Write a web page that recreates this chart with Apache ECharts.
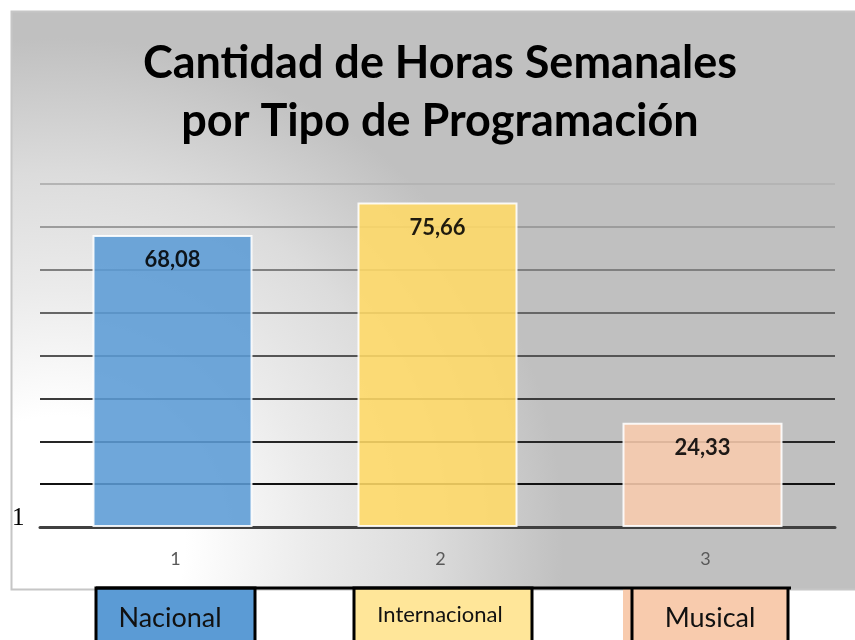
<!DOCTYPE html>
<html>
<head>
<meta charset="utf-8">
<script src="https://cdn.jsdelivr.net/npm/echarts@6/dist/echarts.min.js"></script>
<style>
html,body{margin:0;padding:0;background:#fff;}
#chart{width:855px;height:640px;}
</style>
</head>
<body>
<div id="chart"></div>
<script>
var titleText = 'Cantidad de Horas Semanales\npor Tipo de Programación';
var categories = ['1', '2', '3'];
var values = [68.08, 75.66, 24.33];
var seriesNames = ['Nacional', 'Internacional', 'Musical'];
var barColors = ['#5b9bd5', '#ffd966', '#f8cbad'];
var legendFills = ['#5b9bd5', '#ffe699', '#f8cbad'];
var yMin = 0, yMax = 80, yStep = 10;
var gridColors = ['#404040', '#111111', '#262626', '#3c3c3c', '#555555', '#666666', '#808080', '#9c9c9c', '#b4b4b4'];
var strayLabel = '1';

var chart = echarts.init(document.getElementById('chart'), null, {renderer: 'canvas'});

var option = {
  animation: false,
  backgroundColor: '#ffffff',
  title: {
    text: titleText,
    left: 440,
    textAlign: 'center',
    top: 34,
    padding: 0,
    textStyle: {
      fontFamily: 'Lato',
      fontWeight: 'bold',
      fontSize: 45,
      lineHeight: 58,
      color: '#000000'
    }
  },
  grid: {left: 40, right: 20, top: 184, bottom: 113, containLabel: false},
  xAxis: {
    type: 'category',
    data: categories,
    axisTick: {show: false},
    axisLine: {show: true, lineStyle: {color: '#404040', width: 3}},
    axisLabel: {margin: 23, color: '#595959', fontFamily: 'Lato', fontSize: 18,
                padding: [0, 0, 0, 6]}
  },
  yAxis: {
    type: 'value',
    min: yMin, max: yMax, interval: yStep,
    axisLabel: {show: false},
    axisLine: {show: false},
    axisTick: {show: false},
    splitLine: {show: true, lineStyle: {color: gridColors, width: 2}}
  },
  series: [{
    type: 'bar',
    barWidth: 160,
    data: values.map(function (v, i) {
      return {value: v, name: seriesNames[i], itemStyle: {color: barColors[i]}};
    }),
    itemStyle: {opacity: 0.88, borderColor: '#ffffff', borderWidth: 2},
    label: {
      show: true,
      position: 'insideTop',
      distance: 14,
      fontFamily: 'Lato',
      fontWeight: 'bold',
      fontSize: 22,
      color: '#000000',
      formatter: function (p) { return p.value.toFixed(2).replace('.', ','); }
    }
  }],
  graphic: [
    {
      type: 'rect', z: -10, silent: true,
      shape: {x: 11.5, y: 11.5, width: 850, height: 578},
      style: {
        fill: {
          type: 'radial', x: 0.057, y: 0.917, r: 0.87,
          colorStops: [
            {offset: 0, color: '#ffffff'},
            {offset: 0.25, color: '#ffffff'},
            {offset: 0.5, color: '#ebebeb'},
            {offset: 0.73, color: '#dcdcdc'},
            {offset: 1, color: '#c0c0c0'}
          ]
        },
        stroke: '#c6c6c6', lineWidth: 2
      }
    },
    {
      type: 'text', z: 10, silent: true,
      style: {x: 12, y: 506, text: strayLabel, font: '25px "Liberation Serif"', fill: '#000000'}
    },
    {type: 'rect', z: 20, shape: {x: 96, y: 588, width: 159, height: 70},
     style: {fill: legendFills[0], stroke: '#000000', lineWidth: 3}},
    {type: 'rect', z: 20, shape: {x: 354, y: 588, width: 178, height: 70},
     style: {fill: legendFills[1], stroke: '#000000', lineWidth: 3}},
    {type: 'rect', z: 20, shape: {x: 623, y: 588, width: 165, height: 70},
     style: {fill: legendFills[2], stroke: null}},
    {type: 'line', z: 21, shape: {x1: 632, y1: 588, x2: 632, y2: 660},
     style: {stroke: '#000000', lineWidth: 3}},
    {type: 'line', z: 21, shape: {x1: 788, y1: 588, x2: 788, y2: 660},
     style: {stroke: '#000000', lineWidth: 3}},
    {type: 'line', z: 22, shape: {x1: 96, y1: 588, x2: 791, y2: 588},
     style: {stroke: '#000000', lineWidth: 3}},
    {type: 'text', z: 23, style: {x: 170, y: 618, text: seriesNames[0], textAlign: 'center', textVerticalAlign: 'middle',
      font: '27px Lato', fill: '#111111'}},
    {type: 'text', z: 23, style: {x: 440, y: 615, text: seriesNames[1], textAlign: 'center', textVerticalAlign: 'middle',
      font: '22px Lato', fill: '#111111'}},
    {type: 'text', z: 23, style: {x: 710, y: 618, text: seriesNames[2], textAlign: 'center', textVerticalAlign: 'middle',
      font: '27px Lato', fill: '#111111'}}
  ]
};
chart.setOption(option);
</script>
</body>
</html>
